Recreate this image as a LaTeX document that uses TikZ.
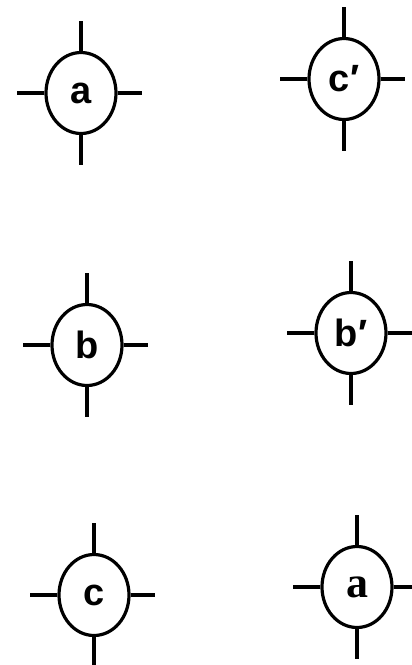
\documentclass[tikz,border=0pt]{standalone}
\usepackage{fontspec}
\setmainfont{Liberation Sans}
\newfontfamily\lblserif{Liberation Serif}
\usetikzlibrary{shapes.geometric}

\begin{document}
\begin{tikzpicture}[x=1pt, y=-1pt,
    every node/.style={draw, ellipse, line width=3.2pt, inner sep=0pt,
      minimum width=70pt, minimum height=81pt,
      font=\fontsize{38}{38}\selectfont\bfseries},
    stub/.style={line width=3.2pt}]
        \useasboundingbox (0,0) rectangle (412,665);

        % Left column
        \node (a) at (81,93) {a};
        \node (b) at (87,345) {b};
        \node (c) at (94,595) {c};

        % Right column
        \node (cp) at (344,79) {c′};
        \node (bp) at (351,333) {b′};
        \node (a2) at (357,587) {\lblserif\fontsize{44}{44}\selectfont a};

        % Four short stubs on every junction
        \foreach \n in {a,b,c,cp,bp,a2} {
          \draw[stub] (\n.north) -- ++(0,-30);
          \draw[stub] (\n.south) -- ++(0,30);
          \draw[stub] (\n.west) -- ++(-27,0);
          \draw[stub] (\n.east) -- ++(24,0);
        }
      \end{tikzpicture}
\end{document}
